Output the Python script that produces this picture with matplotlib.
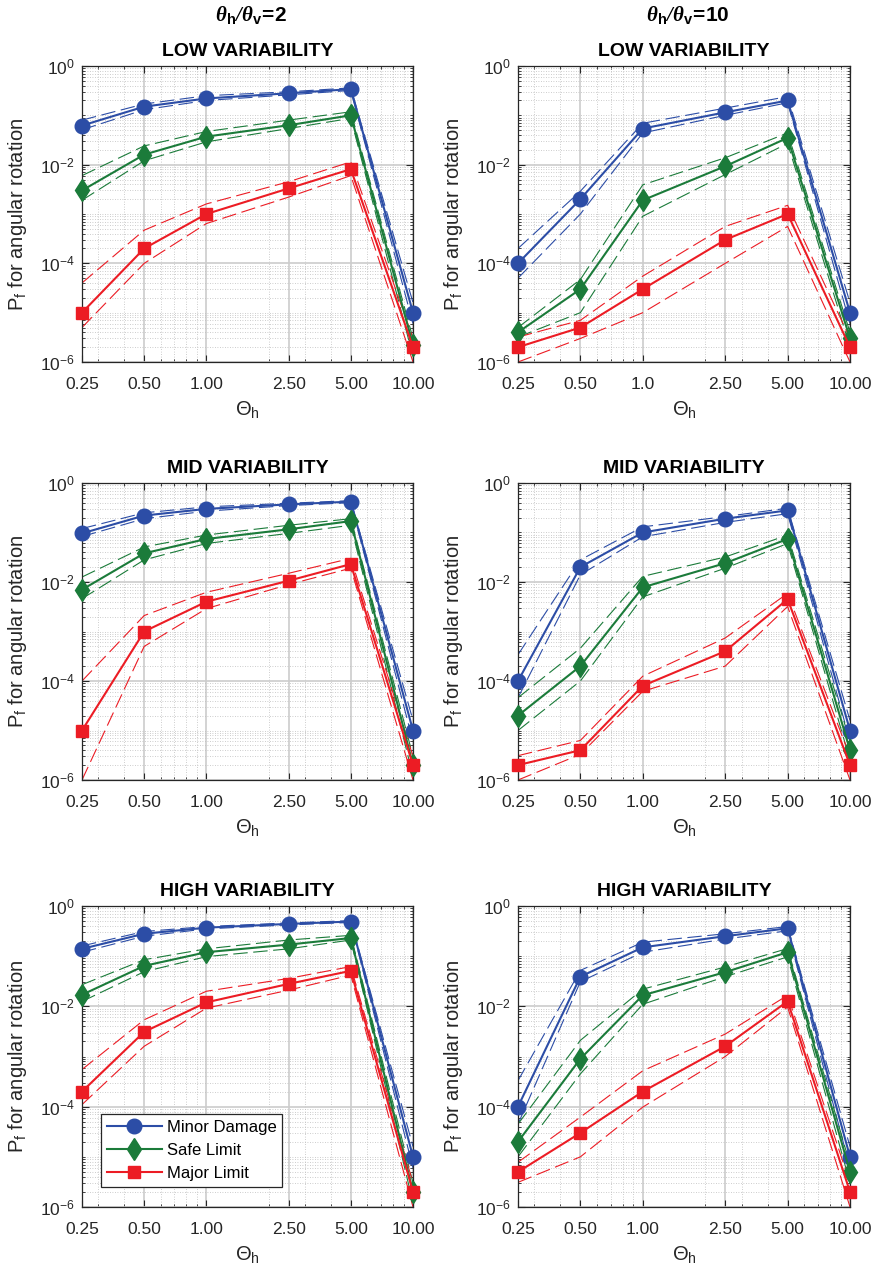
import numpy as np
import matplotlib
matplotlib.use("Agg")
import matplotlib.pyplot as plt
from matplotlib.ticker import FixedLocator, FixedFormatter, LogLocator, LogFormatterSciNotation, NullFormatter
from matplotlib.lines import Line2D

plt.rcParams['font.family'] = ['Liberation Sans', 'DejaVu Sans']
plt.rcParams['axes.unicode_minus'] = False
plt.rcParams['mathtext.fontset'] = 'custom'
plt.rcParams['mathtext.rm'] = 'Liberation Sans'
plt.rcParams['mathtext.it'] = 'Liberation Sans:italic'
plt.rcParams['mathtext.bf'] = 'Liberation Sans:bold'
try:
    plt.rcParams['mathtext.bfit'] = 'Liberation Serif:bold:italic'
    HAS_BFIT = True
except KeyError:
    HAS_BFIT = False

# ---------------- data ----------------
theta_h = [0.25, 0.50, 1.00, 2.50, 5.00, 10.00]
tick_labels_a = ['0.25', '0.50', '1.00', '2.50', '5.00', '10.00']
tick_labels_b = ['0.25', '0.50', '1.0', '2.50', '5.00', '10.00']

ratio_labels = ['2', '10']
variability_titles = ['LOW VARIABILITY', 'MID VARIABILITY', 'HIGH VARIABILITY']
series_names = ['Minor Damage', 'Safe Limit', 'Major Limit']

# ratio 2, low variability
r2_low_minor = [0.062, 0.15, 0.22, 0.28, 0.34, 1e-5]
r2_low_minor_up = [0.08, 0.17, 0.25, 0.30, 0.36, 1.6e-5]
r2_low_minor_dn = [0.051, 0.13, 0.20, 0.26, 0.32, 6e-6]
r2_low_safe = [0.003, 0.016, 0.037, 0.063, 0.10, 2.2e-6]
r2_low_safe_up = [0.006, 0.024, 0.047, 0.08, 0.118, 3e-6]
r2_low_safe_dn = [0.0019, 0.012, 0.029, 0.054, 0.087, 1.3e-6]
r2_low_major = [1e-5, 2e-4, 1e-3, 3.3e-3, 8.1e-3, 2e-6]
r2_low_major_up = [4e-5, 4.7e-4, 1.6e-3, 4.5e-3, 0.0114, 3e-6]
r2_low_major_dn = [5e-6, 1e-4, 6.4e-4, 2.2e-3, 6e-3, 1e-6]

# ratio 10, low variability
r10_low_minor = [1e-4, 2e-3, 0.054, 0.115, 0.2, 1e-5]
r10_low_minor_up = [2e-4, 2.9e-3, 0.069, 0.14, 0.24, 1.6e-5]
r10_low_minor_dn = [5e-5, 1e-3, 0.044, 0.10, 0.18, 6e-6]
r10_low_safe = [4e-6, 3e-5, 1.9e-3, 9.3e-3, 0.035, 3e-6]
r10_low_safe_up = [5e-6, 4.7e-5, 3.9e-3, 0.0138, 0.044, 4e-6]
r10_low_safe_dn = [3.2e-6, 1e-5, 9e-4, 6.3e-3, 0.027, 2e-6]
r10_low_major = [2e-6, 5e-6, 3e-5, 3e-4, 1e-3, 2e-6]
r10_low_major_up = [3.2e-6, 7e-6, 5.5e-5, 5.6e-4, 1.5e-3, 3e-6]
r10_low_major_dn = [1e-6, 3e-6, 1e-5, 1e-4, 5.6e-4, 1e-6]

# ratio 2, mid variability
r2_mid_minor = [0.096, 0.22, 0.30, 0.37, 0.42, 1e-5]
r2_mid_minor_up = [0.12, 0.25, 0.33, 0.39, 0.44, 1.6e-5]
r2_mid_minor_dn = [0.083, 0.19, 0.27, 0.35, 0.40, 6e-6]
r2_mid_safe = [7e-3, 0.038, 0.074, 0.116, 0.17, 2e-6]
r2_mid_safe_up = [0.0126, 0.051, 0.089, 0.14, 0.19, 3e-6]
r2_mid_safe_dn = [4.6e-3, 0.028, 0.06, 0.096, 0.14, 1.2e-6]
r2_mid_major = [1e-5, 1e-3, 4e-3, 0.0106, 0.023, 2e-6]
r2_mid_major_up = [1e-4, 2.1e-3, 6.2e-3, 0.015, 0.03, 3e-6]
r2_mid_major_dn = [1e-6, 5e-4, 2.9e-3, 8.9e-3, 0.019, 1e-6]

# ratio 10, mid variability
r10_mid_minor = [1e-4, 0.02, 0.1, 0.19, 0.28, 1e-5]
r10_mid_minor_up = [3.4e-4, 0.028, 0.13, 0.21, 0.31, 1.6e-5]
r10_mid_minor_dn = [4.6e-5, 0.014, 0.082, 0.16, 0.24, 6e-6]
r10_mid_safe = [2e-5, 2e-4, 7.8e-3, 0.024, 0.074, 4e-6]
r10_mid_safe_up = [4.6e-5, 4.6e-4, 0.013, 0.032, 0.089, 6e-6]
r10_mid_safe_dn = [1e-5, 1e-4, 5e-3, 0.019, 0.06, 2.5e-6]
r10_mid_major = [2e-6, 4e-6, 8e-5, 4e-4, 4.5e-3, 2e-6]
r10_mid_major_up = [3.1e-6, 6.3e-6, 1.25e-4, 7.4e-4, 5.9e-3, 3e-6]
r10_mid_major_dn = [1e-6, 3.3e-6, 6.2e-5, 2e-4, 3.2e-3, 1e-6]

# ratio 2, high variability
r2_high_minor = [0.14, 0.28, 0.37, 0.44, 0.49, 1e-5]
r2_high_minor_up = [0.16, 0.31, 0.39, 0.46, 0.51, 1.6e-5]
r2_high_minor_dn = [0.12, 0.25, 0.35, 0.42, 0.47, 6e-6]
r2_high_safe = [0.017, 0.064, 0.12, 0.17, 0.23, 2e-6]
r2_high_safe_up = [0.027, 0.085, 0.14, 0.21, 0.26, 3e-6]
r2_high_safe_dn = [0.0125, 0.049, 0.098, 0.14, 0.21, 1.2e-6]
r2_high_major = [2e-4, 3.1e-3, 0.012, 0.028, 0.051, 2e-6]
r2_high_major_up = [5.5e-4, 5.4e-3, 0.02, 0.036, 0.062, 3e-6]
r2_high_major_dn = [1.1e-4, 1.6e-3, 9.2e-3, 0.021, 0.042, 1e-6]

# ratio 10, high variability
r10_high_minor = [1e-4, 0.039, 0.15, 0.25, 0.36, 1e-5]
r10_high_minor_up = [3.3e-4, 0.052, 0.19, 0.28, 0.39, 1.6e-5]
r10_high_minor_dn = [4.5e-5, 0.031, 0.12, 0.22, 0.32, 6e-6]
r10_high_safe = [2e-5, 9e-4, 0.0166, 0.048, 0.12, 5e-6]
r10_high_safe_up = [4.5e-5, 2.1e-3, 0.022, 0.061, 0.142, 7e-6]
r10_high_safe_dn = [1e-5, 4.5e-4, 0.011, 0.039, 0.097, 3e-6]
r10_high_major = [5e-6, 3e-5, 2e-4, 1.6e-3, 0.0126, 2e-6]
r10_high_major_up = [7.8e-6, 6.2e-5, 5.2e-4, 2.8e-3, 0.0166, 3e-6]
r10_high_major_dn = [3.1e-6, 1e-5, 9.8e-5, 1e-3, 9.7e-3, 1e-6]

panels = [
    [(r2_low_minor, r2_low_minor_up, r2_low_minor_dn),
     (r2_low_safe, r2_low_safe_up, r2_low_safe_dn),
     (r2_low_major, r2_low_major_up, r2_low_major_dn)],
    [(r10_low_minor, r10_low_minor_up, r10_low_minor_dn),
     (r10_low_safe, r10_low_safe_up, r10_low_safe_dn),
     (r10_low_major, r10_low_major_up, r10_low_major_dn)],
    [(r2_mid_minor, r2_mid_minor_up, r2_mid_minor_dn),
     (r2_mid_safe, r2_mid_safe_up, r2_mid_safe_dn),
     (r2_mid_major, r2_mid_major_up, r2_mid_major_dn)],
    [(r10_mid_minor, r10_mid_minor_up, r10_mid_minor_dn),
     (r10_mid_safe, r10_mid_safe_up, r10_mid_safe_dn),
     (r10_mid_major, r10_mid_major_up, r10_mid_major_dn)],
    [(r2_high_minor, r2_high_minor_up, r2_high_minor_dn),
     (r2_high_safe, r2_high_safe_up, r2_high_safe_dn),
     (r2_high_major, r2_high_major_up, r2_high_major_dn)],
    [(r10_high_minor, r10_high_minor_up, r10_high_minor_dn),
     (r10_high_safe, r10_high_safe_up, r10_high_safe_dn),
     (r10_high_major, r10_high_major_up, r10_high_major_dn)],
]

# ---------------- style ----------------
colors = ['#2C4DA6', '#1B7B3A', '#EC1C24']
markers = ['o', 'd', 's']
marker_sizes = [10.5, 11.5, 8.0]

W, H = 877, 1273
fig = plt.figure(figsize=(W / 100, H / 100), dpi=100)

col_left = [82, 518]
col_width = [331, 332]
row_top = [66, 483, 906]
row_bottom = [362, 780, 1207]

axes = []
for r in range(3):
    for c in range(2):
        x0 = col_left[c] / W
        y0 = 1 - row_bottom[r] / H
        w = col_width[c] / W
        h = (row_bottom[r] - row_top[r]) / H
        axes.append(fig.add_axes([x0, y0, w, h]))

for i, ax in enumerate(axes):
    r, c = divmod(i, 2)
    ax.set_xscale('log')
    ax.set_yscale('log')
    ax.set_axisbelow(True)

    for (mid, up, dn), col in zip(panels[i], colors):
        for bound in (up, dn):
            ax.plot(theta_h, bound, color=col, lw=0.8, ls=(0, (13, 5)), zorder=2)
    for (mid, up, dn), col, mk, ms, name in zip(panels[i], colors, markers, marker_sizes, series_names):
        ax.plot(theta_h, mid, color=col, lw=1.5, marker=mk, markersize=ms,
                markerfacecolor=col, markeredgecolor=col, label=name, zorder=3,
                clip_on=False)

    ax.set_xlim(0.25, 10)
    ax.set_ylim(1e-6, 1)

    ax.xaxis.set_major_locator(FixedLocator(theta_h))
    ax.xaxis.set_major_formatter(FixedFormatter(tick_labels_b if i == 1 else tick_labels_a))
    ax.xaxis.set_minor_locator(LogLocator(base=10, subs=np.arange(2, 10)))
    ax.xaxis.set_minor_formatter(NullFormatter())

    ax.yaxis.set_major_locator(FixedLocator([1e-6, 1e-4, 1e-2, 1e0]))
    ax.yaxis.set_major_formatter(LogFormatterSciNotation())
    ax.yaxis.set_minor_locator(LogLocator(base=10, subs=np.arange(1, 10), numticks=30))
    ax.yaxis.set_minor_formatter(NullFormatter())

    ax.grid(True, which='major', color='#cccccc', lw=1.2, ls='-')
    ax.grid(True, which='minor', color='#bcbcbc', lw=0.6, ls=(0, (1, 2)))

    ax.tick_params(which='both', direction='in', top=True, right=True,
                   color='#262626', labelsize=12.5, labelcolor='#262626')
    ax.tick_params(which='major', length=5, width=0.8)
    ax.tick_params(which='minor', length=2.5, width=0.6)
    ax.tick_params(axis='x', which='major', pad=11)
    ax.tick_params(axis='y', which='major', pad=5)
    for sp in ax.spines.values():
        sp.set_color('#262626')
        sp.set_linewidth(0.9)

    ax.set_xlabel('Θ$_\\mathrm{h}$', fontsize=14.5, color='#262626', labelpad=5)
    ax.set_ylabel('P$_\\mathrm{f}$ for angular rotation', fontsize=14.5,
                  color='#262626', labelpad=8)
    ax.set_title(variability_titles[r], fontsize=14, fontweight='bold', pad=7)

# column headers
for c, rl in enumerate(ratio_labels):
    xc = (col_left[c] + col_width[c] / 2) / W
    if HAS_BFIT:
        txt = (r'$\mathbfit{\theta}_{\mathbf{h}}\mathbfit{/}\mathbfit{\theta}_{\mathbf{v}}'
               r'\!\mathbf{=}\!\mathbf{' + rl + r'}$')
    else:
        txt = r'$\theta_h/\theta_v$=' + rl
    fig.text(xc + 4 / W, 1 - 16 / H, txt, ha='center', va='center', fontsize=15,
             fontweight='bold')

# legend in lower-left panel
handles = [Line2D([], [], color=col, lw=1.5, marker=mk, markersize=ms,
                  markerfacecolor=col, markeredgecolor=col)
           for col, mk, ms in zip(colors, markers, marker_sizes)]
leg = axes[4].legend(handles, series_names, loc='lower left',
                     bbox_to_anchor=(0.057, 0.066), borderaxespad=0,
                     fontsize=12, handlelength=3.3, handletextpad=0.3,
                     labelspacing=0.5, borderpad=0.35, fancybox=False,
                     framealpha=1, edgecolor='#262626')
leg.get_frame().set_linewidth(0.9)

fig.savefig('out.png', dpi=100)
